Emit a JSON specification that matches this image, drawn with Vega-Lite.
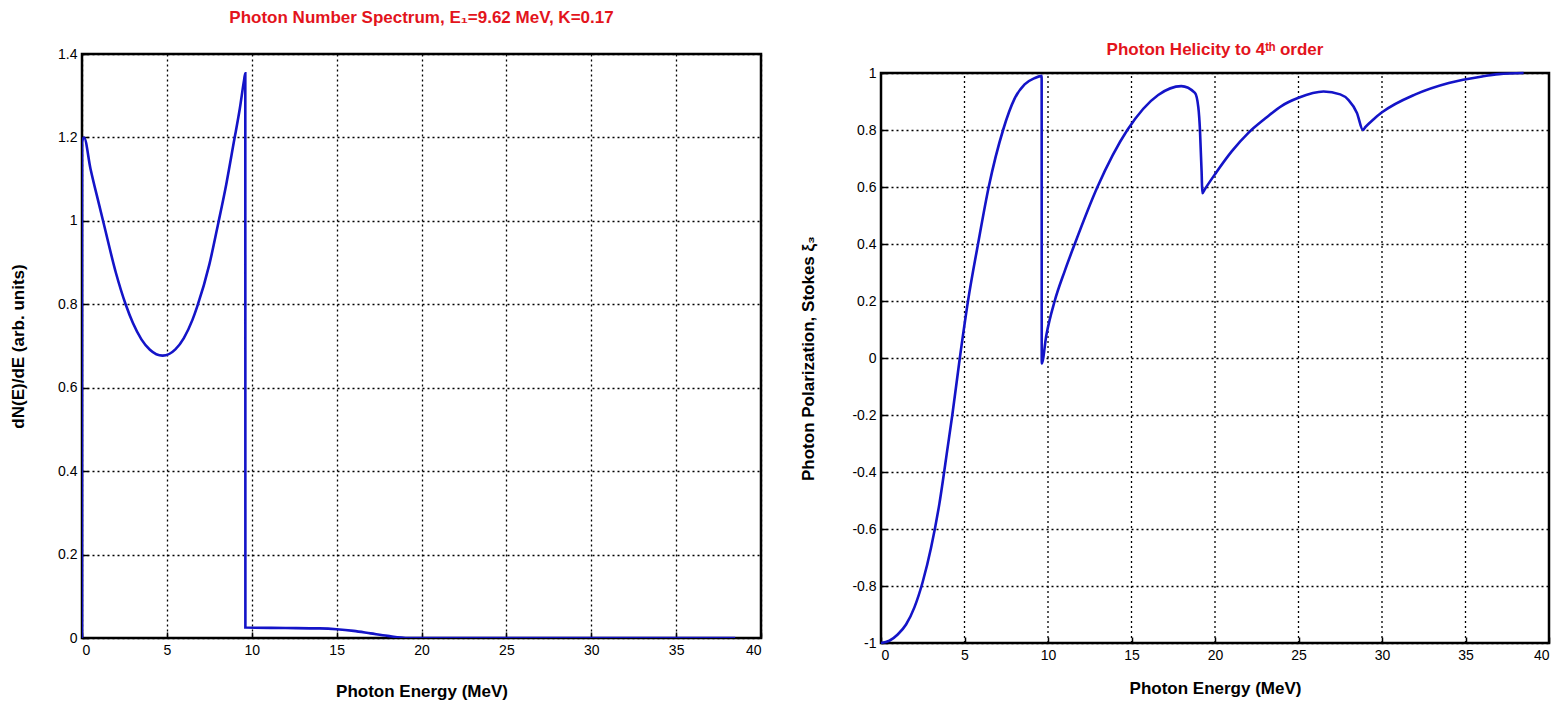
{
  "$schema": "https://vega.github.io/schema/vega-lite/v6.json",
  "background": "white",
  "padding": {"left": 8, "top": 7, "right": 0, "bottom": 0},
  "spacing": 36,
  "datasets": {
    "spectrum": [
      {"E": 0, "N": 0}, {"E": 0.001, "N": 1.19}, {"E": 0.12, "N": 1.2}, {"E": 0.5, "N": 1.125},
      {"E": 1.0, "N": 1.04}, {"E": 1.3, "N": 0.99}, {"E": 2.0, "N": 0.875}, {"E": 2.57, "N": 0.8},
      {"E": 3.0, "N": 0.755}, {"E": 3.5, "N": 0.716}, {"E": 4.0, "N": 0.691}, {"E": 4.75, "N": 0.677},
      {"E": 5.5, "N": 0.692}, {"E": 6.0, "N": 0.719}, {"E": 6.5, "N": 0.762}, {"E": 6.79, "N": 0.795},
      {"E": 7.5, "N": 0.895}, {"E": 8.03, "N": 0.995}, {"E": 8.5, "N": 1.088}, {"E": 8.95, "N": 1.19},
      {"E": 9.3, "N": 1.27}, {"E": 9.55, "N": 1.338}, {"E": 9.62, "N": 1.354}, {"E": 9.625, "N": 0.025},
      {"E": 12, "N": 0.024}, {"E": 14, "N": 0.023}, {"E": 15, "N": 0.021}, {"E": 16, "N": 0.017},
      {"E": 17, "N": 0.011}, {"E": 18, "N": 0.005}, {"E": 19.24, "N": 0}, {"E": 38.48, "N": 0}
    ],
    "helicity": [
      {"E": 0, "S": -1}, {"E": 0.5, "S": -0.992}, {"E": 1.0, "S": -0.97}, {"E": 1.5, "S": -0.935},
      {"E": 2.0, "S": -0.875}, {"E": 2.5, "S": -0.785}, {"E": 3.0, "S": -0.665}, {"E": 3.5, "S": -0.51},
      {"E": 4.0, "S": -0.31}, {"E": 4.27, "S": -0.2}, {"E": 4.72, "S": 0}, {"E": 5.21, "S": 0.2},
      {"E": 5.81, "S": 0.4}, {"E": 6.45, "S": 0.6}, {"E": 7.31, "S": 0.8}, {"E": 8.0, "S": 0.91},
      {"E": 8.6, "S": 0.96}, {"E": 9.2, "S": 0.982}, {"E": 9.62, "S": 0.99}, {"E": 9.625, "S": -0.019},
      {"E": 9.9, "S": 0.08}, {"E": 10.4, "S": 0.2}, {"E": 11.0, "S": 0.305}, {"E": 11.6, "S": 0.4},
      {"E": 12.96, "S": 0.6}, {"E": 14.75, "S": 0.8}, {"E": 16.6, "S": 0.923}, {"E": 17.98, "S": 0.954},
      {"E": 18.8, "S": 0.93}, {"E": 19.0, "S": 0.88}, {"E": 19.1, "S": 0.8}, {"E": 19.2, "S": 0.65},
      {"E": 19.24, "S": 0.578}, {"E": 19.4, "S": 0.593}, {"E": 20.0, "S": 0.645}, {"E": 21.0, "S": 0.725},
      {"E": 22.0, "S": 0.79}, {"E": 23.0, "S": 0.84}, {"E": 24.0, "S": 0.885}, {"E": 25.0, "S": 0.913},
      {"E": 26.5, "S": 0.935}, {"E": 27.5, "S": 0.925}, {"E": 28.0, "S": 0.905}, {"E": 28.5, "S": 0.86},
      {"E": 28.86, "S": 0.8}, {"E": 29.0, "S": 0.81}, {"E": 29.5, "S": 0.838}, {"E": 30.0, "S": 0.862},
      {"E": 32.0, "S": 0.925}, {"E": 34.0, "S": 0.965}, {"E": 36.0, "S": 0.988}, {"E": 37.0, "S": 0.996},
      {"E": 38.48, "S": 1.0}
    ],
    "xgrid": [{"g": 5}, {"g": 10}, {"g": 15}, {"g": 20}, {"g": 25}, {"g": 30}, {"g": 35}],
    "frame": [{"x0": 0, "x1": 40, "y0": -1, "y1": 1}]
  },
  "hconcat": [
    {
      "width": 679,
      "height": 584,
      "title": {"text": "Photon Number Spectrum, E₁=9.62 MeV, K=0.17", "offset": 20},
      "data": {"name": "spectrum"},
      "mark": {"type": "line", "color": "#1414c8", "strokeWidth": 2.6, "clip": true, "interpolate": "monotone"},
      "encoding": {
        "x": {"field": "E", "type": "quantitative", "scale": {"domain": [0, 40], "nice": false, "zero": false},
              "axis": {"values": [0, 5, 10, 15, 20, 25, 30, 35, 40], "title": "Photon Energy (MeV)", "titlePadding": 26}},
        "y": {"field": "N", "type": "quantitative", "scale": {"domain": [0, 1.4], "nice": false},
              "axis": {"values": [0, 0.2, 0.4, 0.6, 0.8, 1, 1.2, 1.4], "format": "~g", "title": "dN(E)/dE (arb. units)", "titlePadding": 30}},
        "order": {"value": null}
      }
    },
    {
      "width": 668,
      "height": 589,
      "title": {"text": "Photon Helicity to 4ᵗʰ order", "offset": -5},
      "view": {"stroke": null},
      "layer": [
        {
          "data": {"name": "xgrid"},
          "mark": {"type": "rule", "color": "black", "strokeDash": [2, 3], "strokeWidth": 1.3},
          "encoding": {
            "x": {"field": "g", "type": "quantitative", "scale": {"domain": [0, 40], "nice": false, "zero": false},
                  "axis": {"values": [0, 5, 10, 15, 20, 25, 30, 35, 40], "grid": false, "title": "Photon Energy (MeV)", "titlePadding": 18}},
            "y": {"datum": -1, "type": "quantitative"},
            "y2": {"datum": 1}
          }
        },
        {
          "data": {"name": "frame"},
          "mark": {"type": "rect", "fill": "transparent", "stroke": "black", "strokeWidth": 2.5},
          "encoding": {
            "x": {"field": "x0", "type": "quantitative"},
            "x2": {"field": "x1"},
            "y": {"field": "y0", "type": "quantitative"},
            "y2": {"field": "y1"}
          }
        },
        {
          "data": {"name": "helicity"},
          "mark": {"type": "line", "color": "#1414c8", "strokeWidth": 2.6, "interpolate": "monotone"},
          "encoding": {
            "x": {"field": "E", "type": "quantitative",
                  "axis": {"values": [0, 5, 10, 15, 20, 25, 30, 35, 40], "grid": false, "title": "Photon Energy (MeV)", "titlePadding": 18}},
            "y": {"field": "S", "type": "quantitative", "scale": {"domain": [-1, 1], "range": [589, 19], "nice": false, "zero": false},
                  "axis": {"values": [-1, -0.8, -0.6, -0.4, -0.2, 0, 0.2, 0.4, 0.6, 0.8, 1], "format": "~g",
                           "labelExpr": "replace(datum.label, '−', '-')",
                           "title": "Photon Polarization, Stokes ξ₃", "titlePadding": 34}},
            "order": {"value": null}
          }
        }
      ]
    }
  ],
  "config": {
    "font": "Liberation Sans",
    "view": {"stroke": "black", "strokeWidth": 2.5},
    "axis": {
      "domain": false,
      "grid": true,
      "gridColor": "black",
      "gridDash": [2, 3],
      "gridWidth": 1.3,
      "gridOpacity": 1,
      "ticks": true,
      "tickColor": "black",
      "tickSize": -6,
      "tickWidth": 1.5,
      "labelPadding": 11,
      "labelFont": "Liberation Sans",
      "labelFontSize": 14,
      "labelColor": "black",
      "titleFont": "Liberation Sans",
      "titleFontSize": 17,
      "titleFontWeight": "bold",
      "titleColor": "black"
    },
    "title": {"color": "#e3141c", "fontSize": 17, "fontWeight": "bold", "font": "Liberation Sans", "anchor": "middle"}
  }
}
